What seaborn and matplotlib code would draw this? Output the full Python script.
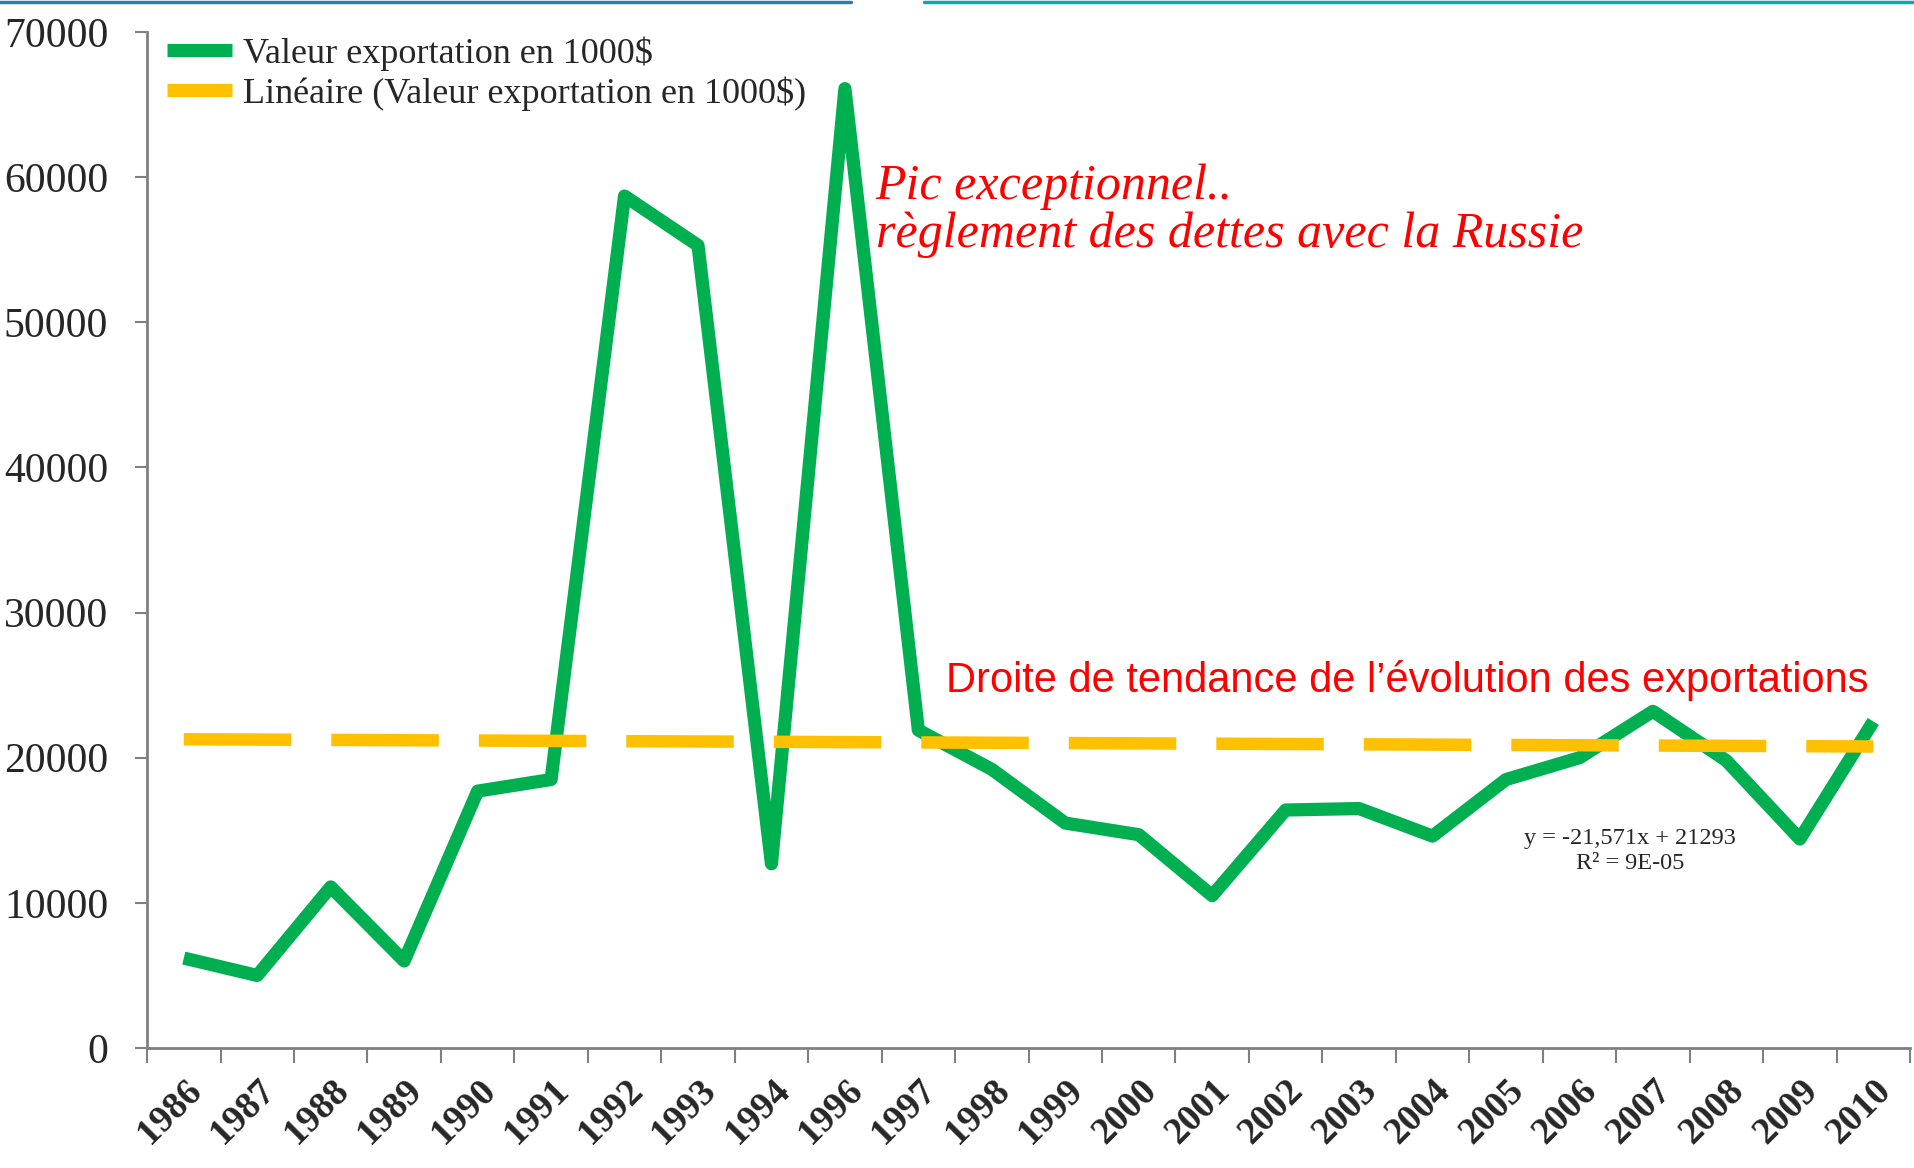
import matplotlib
matplotlib.use('Agg')
import matplotlib.pyplot as plt
import matplotlib.transforms as mtransforms
import seaborn as sns
import pandas as pd
import numpy as np
from matplotlib.lines import Line2D

# data
years = ['1986', '1987', '1988', '1989', '1990', '1991', '1992', '1993', '1994',
         '1996', '1997', '1998', '1999', '2000', '2001', '2002', '2003', '2004',
         '2005', '2006', '2007', '2008', '2009', '2010']
export_values = [6200, 5000, 11100, 6000, 17700, 18500, 58700, 55300, 12700,
                 66100, 21900, 19200, 15500, 14700, 10500, 16400, 16500, 14600,
                 18500, 20000, 23200, 19800, 14400, 22500]
# linear trend given on the chart: y = -21,571x + 21293
trend_slope = -21.571
trend_intercept = 21293
y_ticks = [0, 10000, 20000, 30000, 40000, 50000, 60000, 70000]

green = '#00B050'
yellow = '#FFC000'
axis_grey = '#808080'

df = pd.DataFrame({'Année': years, 'Valeur': export_values})
df['Tendance'] = trend_slope * np.arange(1, len(years) + 1) + trend_intercept

sns.set_style('white')
plt.rcParams['font.family'] = ['Liberation Serif', 'DejaVu Serif']

fig = plt.figure(figsize=(19.15, 11.68), dpi=100)
ax = fig.add_axes([0.0768, 0.1027, 0.9206, 0.8699])

sns.lineplot(data=df, x='Année', y='Valeur', color=green, linewidth=9.5,
             sort=False, ax=ax, solid_joinstyle='round', solid_capstyle='butt')
sns.lineplot(data=df, x='Année', y='Tendance', color=yellow, linewidth=9,
             sort=False, ax=ax)
ax.lines[1].set_dashes((8.6, 3.2))
ax.lines[1].set_dash_capstyle('butt')

ax.set_xlim(-0.5, len(years) - 0.5)
ax.set_ylim(0, 70000)
ax.set_yticks(y_ticks)
ax.set_yticklabels([str(v) for v in y_ticks], fontsize=30)
ax.set_xticks(range(len(years)))
ax.set_xticklabels(years, rotation=45, ha='right', rotation_mode='anchor',
                   fontsize=27, fontweight='bold')
shift = mtransforms.ScaledTranslation(-7 / 72, 0, fig.dpi_scale_trans)
for lbl in ax.get_xticklabels():
    lbl.set_transform(lbl.get_transform() + shift)
ax.set_xticks(np.arange(-0.5, len(years)), minor=True)
ax.tick_params(axis='x', which='major', length=0, pad=18)
ax.tick_params(axis='x', which='minor', length=11, width=1.5, color=axis_grey,
               direction='out', bottom=True)
ax.tick_params(axis='y', length=9, width=1.5, color=axis_grey, direction='out',
               left=True, pad=19)
ax.set_xlabel('')
ax.set_ylabel('')

for side in ['top', 'right']:
    ax.spines[side].set_visible(False)
for side in ['left', 'bottom']:
    ax.spines[side].set_color(axis_grey)
    ax.spines[side].set_linewidth(2)

handles = [Line2D([0], [0], color=green, lw=9.5, solid_capstyle='butt'),
           Line2D([0], [0], color=yellow, lw=9.5, solid_capstyle='butt')]
ax.legend(handles, ['Valeur exportation en 1000$', 'Linéaire (Valeur exportation en 1000$)'],
          loc='upper left', bbox_to_anchor=(0.003, 1.010), frameon=False,
          fontsize=26, handlelength=1.8, handletextpad=0.3, labelspacing=0.15,
          borderaxespad=0)

ax.text(9.42, 57700, 'Pic exceptionnel..\nrèglement des dettes avec la Russie',
        color='#FF0000', fontsize=36, fontstyle='italic', va='center', ha='left',
        linespacing=1.05)
ax.text(22.94, 25350, 'Droite de tendance de l\u2019évolution des exportations',
        color='#FF0000', fontsize=30, family=['Liberation Sans', 'DejaVu Sans'],
        ha='right', va='center')
ax.text(19.69, 13570, 'y = -21,571x + 21293\nR² = 9E-05', fontsize=17.5,
        ha='center', va='center', linespacing=1.3)

# thin coloured rule at the top of the slide
fig.add_artist(Line2D([0, 0.4445], [0.9985, 0.9985], color='#2A7DB4', lw=2.5,
                      transform=fig.transFigure))
fig.add_artist(Line2D([0.4825, 1.0], [0.9985, 0.9985], color='#0AA9B3', lw=2.5,
                      transform=fig.transFigure))

plt.savefig('out.png', dpi=100)
